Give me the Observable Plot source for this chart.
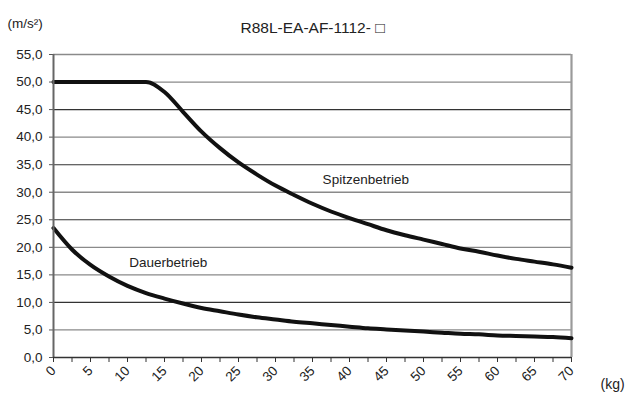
<!DOCTYPE html>
<html>
<head>
<meta charset="utf-8">
<script src="https://cdn.jsdelivr.net/npm/d3@7"></script>
<script src="https://cdn.jsdelivr.net/npm/@observablehq/plot@0.6"></script>
<style>
  html, body { margin: 0; padding: 0; background: #fff; }
  #chart g[aria-label="y-axis tick label"], #chart g[aria-label="x-axis tick label"] { font-size: 13.5px !important; }
</style>
</head>
<body>
<div id="chart"></div>
<script>
const titleText = "R88L-EA-AF-1112- \u25A1";
const yUnit = "(m/s\u00B2)";
const xUnit = "(kg)";

const weights = [0, 2.5, 5, 7.5, 10, 12.5, 15, 17.5, 20, 22.5, 25, 27.5, 30, 32.5, 35, 37.5, 40, 42.5, 45, 47.5, 50, 52.5, 55, 57.5, 60, 62.5, 65, 67.5, 70];
const peakAccel = [50, 50, 50, 50, 50, 50, 48.2, 44.6, 41.0, 38.0, 35.4, 33.2, 31.2, 29.5, 27.9, 26.5, 25.3, 24.2, 23.1, 22.2, 21.4, 20.6, 19.8, 19.2, 18.5, 17.9, 17.4, 16.9, 16.3];
const contAccel = [23.5, 19.6, 16.8, 14.7, 13.0, 11.7, 10.7, 9.8, 9.0, 8.4, 7.8, 7.3, 6.9, 6.5, 6.2, 5.9, 5.6, 5.3, 5.1, 4.9, 4.7, 4.5, 4.3, 4.2, 4.0, 3.9, 3.8, 3.7, 3.5];

const yTicks = [0, 5, 10, 15, 20, 25, 30, 35, 40, 45, 50, 55];
const yGridDark = [10, 25, 35, 45];
const yGridLight = [5, 15, 20, 30, 40, 50, 55];
const xTicks = [0, 2.5, 5, 7.5, 10, 12.5, 15, 17.5, 20, 22.5, 25, 27.5, 30, 32.5, 35, 37.5, 40, 42.5, 45, 47.5, 50, 52.5, 55, 57.5, 60, 62.5, 65, 67.5, 70];

const labels = [
  {name: "Spitzenbetrieb", x: 42.2, y: 32.2},
  {name: "Dauerbetrieb", x: 15.5, y: 17.3}
];

const peak = weights.map((w, i) => ({w, a: peakAccel[i]}));
const cont = weights.map((w, i) => ({w, a: contAccel[i]}));

const chart = Plot.plot({
  width: 635,
  height: 398,
  marginLeft: 53,
  marginRight: 64,
  marginTop: 54,
  marginBottom: 41,
  x: {domain: [0, 70]},
  y: {domain: [0, 55]},
  style: {fontFamily: "'Liberation Sans', Arial, sans-serif", fontSize: "13.5px", background: "#fff", color: "#222"},
  marks: [
    Plot.ruleY(yGridLight, {stroke: "#8a8a8a", strokeWidth: 1.3}),
    Plot.ruleY(yGridDark, {stroke: "#333", strokeWidth: 1.1}),
    Plot.ruleX([70], {stroke: "#9a9a9a", strokeWidth: 2.2}),
    Plot.line(peak, {x: "w", y: "a", stroke: "#111", strokeWidth: 4, curve: "monotone-x"}),
    Plot.line(cont, {x: "w", y: "a", stroke: "#111", strokeWidth: 4, curve: "monotone-x"}),
    Plot.axisY({ticks: yTicks, tickFormat: d => d.toFixed(1).replace(".", ","), tickSize: 4, tickPadding: 7, label: null, stroke: "#555", fontSize: 13.5}),
    Plot.ruleX([0], {stroke: "#666", strokeWidth: 2}),
    Plot.ruleY([0], {stroke: "#333", strokeWidth: 1.6}),
    Plot.axisX({ticks: xTicks, tickFormat: d => (d % 5 === 0 ? String(d) : ""), tickRotate: -45, tickSize: 5, tickPadding: 6, label: null, stroke: "#333", fontSize: 13.5}),
    Plot.text(labels, {x: "x", y: "y", text: "name", fontSize: 13.5, fill: "#222"}),
    Plot.text([titleText], {frameAnchor: "top", dy: -33, fontSize: 15.5, fill: "#222"}),
    Plot.text([yUnit], {frameAnchor: "top-left", textAnchor: "start", dx: -46, dy: -36, fontSize: 13.5, fill: "#222"}),
    Plot.text([xUnit], {frameAnchor: "bottom-right", textAnchor: "start", dx: 29, dy: 31, fontSize: 14, fill: "#222"})
  ]
});
document.getElementById("chart").appendChild(chart);
</script>
</body>
</html>
